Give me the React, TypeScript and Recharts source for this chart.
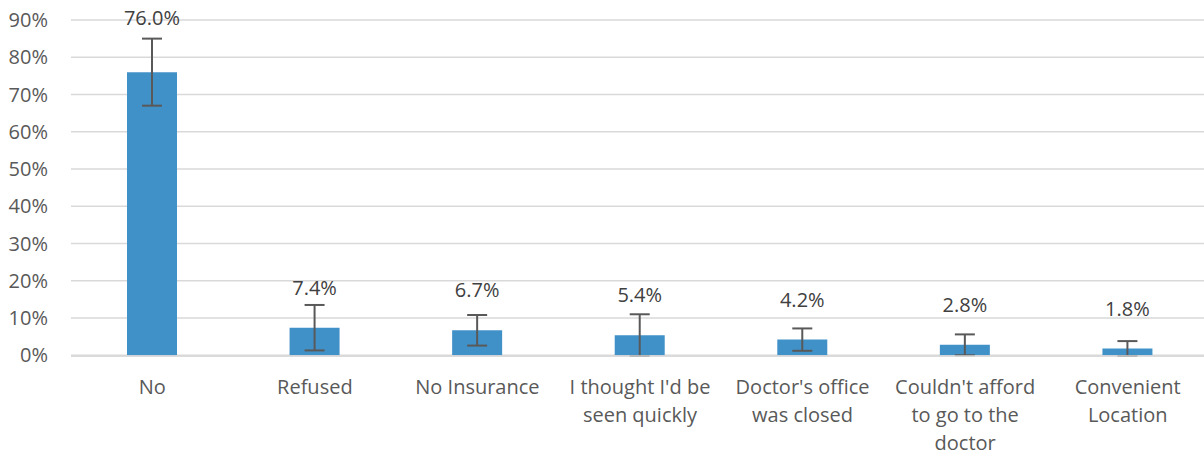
import React from 'react';
import { BarChart, Bar, XAxis, YAxis, CartesianGrid, ErrorBar, LabelList } from 'recharts';

const categories = [
    'No',
    'Refused',
    'No Insurance',
    "I thought I'd be\nseen quickly",
    "Doctor's office\nwas closed",
    "Couldn't afford\nto go to the\ndoctor",
    'Convenient\nLocation',
];
const values = [76.0, 7.4, 6.7, 5.4, 4.2, 2.8, 1.8];
const errors = [9.0, 6.1, 4.1, 5.6, 3.0, 2.8, 2.0];
const yTicks = [0, 10, 20, 30, 40, 50, 60, 70, 80, 90];

const data = categories.map((name, i) => ({ name, value: values[i], err: errors[i] }));

const FONT = '"Open Sans", sans-serif';

const CategoryTick = (props: any) => {
    const { x, y, payload } = props;
    const lines = String(payload.value).split('\n');
    return (
        <text x={x} y={y} textAnchor="middle" fill="#595959" fontSize={20} fontFamily={FONT}>
            {lines.map((line, i) => (
                <tspan key={i} x={x} dy={i === 0 ? 38 : 28}>{line}</tspan>
            ))}
        </text>
    );
};

const ValueLabel = (props: any) => {
    const { x, y, width, height, value, index } = props;
    const pxPerUnit = value ? height / value : 0;
    const errTop = y - errors[index] * pxPerUnit;
    // sit above the bar, but lift it clear of a tall error bar
    let baseline = y - 33;
    if (baseline > errTop - 10) baseline = errTop - 14;
    return (
        <text x={x + width / 2} y={baseline} textAnchor="middle" fill="#404040" fontSize={20} fontFamily={FONT}>
            {Number(value).toFixed(1)}%
        </text>
    );
};

export default function App() {
    return (
        <div style={{ position: 'absolute', left: 0, top: 0, width: 1204, height: 457, overflow: 'hidden', background: '#fff' }}>
            <BarChart width={1210} height={457} data={data} margin={{ top: 20, right: 1, bottom: 0, left: 0 }} barSize={50}>
                <CartesianGrid horizontal vertical={false} stroke="#d9d9d9" strokeWidth={1.5} />
                <XAxis
                    dataKey="name"
                    height={101}
                    interval={0}
                    tickLine={false}
                    tickSize={0}
                    tickMargin={0}
                    axisLine={{ stroke: '#d9d9d9', strokeWidth: 1.5 }}
                    tick={<CategoryTick />}
                />
                <YAxis
                    width={71}
                    domain={[0, 90]}
                    ticks={yTicks}
                    interval={0}
                    axisLine={false}
                    tickLine={false}
                    tickSize={0}
                    tickMargin={23}
                    tickFormatter={(v: number) => `${v}%`}
                    tick={{ fill: '#595959', fontSize: 20, fontFamily: FONT }}
                />
                <Bar dataKey="value" fill="#4191c9" isAnimationActive={false}>
                    <ErrorBar dataKey="err" width={10} strokeWidth={2} stroke="#595959" direction="y" />
                    <LabelList dataKey="value" content={<ValueLabel />} />
                </Bar>
            </BarChart>
        </div>
    );
}
